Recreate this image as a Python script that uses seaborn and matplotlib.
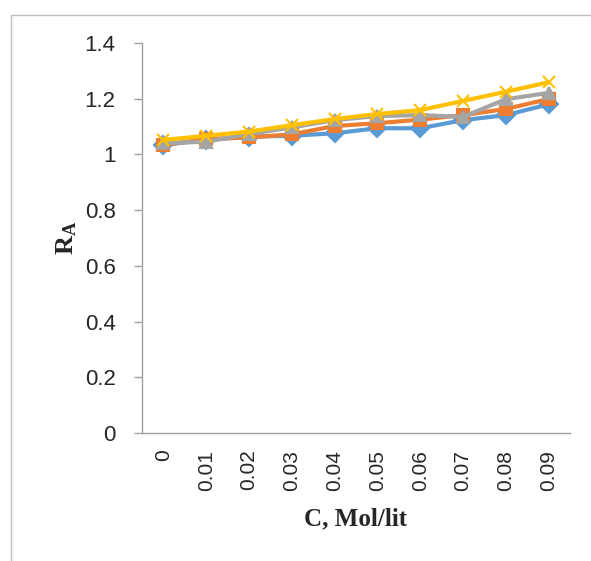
import numpy as np
import pandas as pd
import matplotlib
matplotlib.use("Agg")
from matplotlib import pyplot as plt
from matplotlib.patches import Rectangle
import seaborn as sns

conc = ["0", "0.01", "0.02", "0.03", "0.04", "0.05", "0.06", "0.07", "0.08", "0.09"]
s1 = [1.034, 1.052, 1.064, 1.067, 1.076, 1.094, 1.094, 1.123, 1.141, 1.180]
s2 = [1.034, 1.055, 1.061, 1.072, 1.102, 1.112, 1.125, 1.141, 1.163, 1.199]
s3 = [1.040, 1.046, 1.073, 1.097, 1.123, 1.138, 1.141, 1.135, 1.198, 1.221]
s4 = [1.052, 1.067, 1.082, 1.105, 1.127, 1.145, 1.159, 1.192, 1.225, 1.259]
names = ["S1", "S2", "S3", "S4"]
colors = ["#5B9BD5", "#ED7D31", "#A5A5A5", "#FFC000"]
marks = ["D", "s", "^", "x"]

df = pd.DataFrame({
    "C": conc * 4,
    "RA": s1 + s2 + s3 + s4,
    "series": np.repeat(names, len(conc)),
})

sns.set_style("white")
plt.rcParams["font.family"] = ["Liberation Sans", "DejaVu Sans"]
plt.rcParams["mathtext.fontset"] = "custom"
plt.rcParams["mathtext.bf"] = "Liberation Serif:bold"
plt.rcParams["mathtext.rm"] = "Liberation Serif:bold"

fig = plt.figure(figsize=(5.91, 5.61), dpi=100)
ax = fig.add_axes([142/591, 1-433/561, 428/591, 390/561])

sns.pointplot(data=df, x="C", y="RA", hue="series", palette=colors,
              markers=marks, linestyles="-", order=conc, errorbar=None,
              legend=False, ax=ax, linewidth=3, markersize=9,
              markeredgewidth=1.5)

ax.set_xlim(-0.5, 9.5)
ax.set_ylim(0, 1.4)
ax.set_yticks(np.arange(0, 1.41, 0.2))
ax.set_yticklabels(["0", "0.2", "0.4", "0.6", "0.8", "1", "1.2", "1.4"])
ax.tick_params(axis="y", length=6, width=1, color="#A0A0A0", pad=13,
               labelsize=16, left=True)
ax.tick_params(axis="x", length=0, pad=12, labelsize=15, rotation=90)

for side in ["top", "right"]:
    ax.spines[side].set_visible(False)
for side in ["left", "bottom"]:
    ax.spines[side].set_color("#A0A0A0")
    ax.spines[side].set_linewidth(1)

ax.set_xlabel("C, Mol/lit", family="Liberation Serif", fontweight="bold",
              fontsize=18, labelpad=12)
ax.set_ylabel(r"$\mathbf{R_A}$", fontsize=19, labelpad=4)

fig.add_artist(Rectangle((11/591, -0.1), 2, 1.1-15/561, transform=fig.transFigure,
                         fill=False, ec="#BFBFBF", lw=1))

fig.savefig("out.png", dpi=100)
